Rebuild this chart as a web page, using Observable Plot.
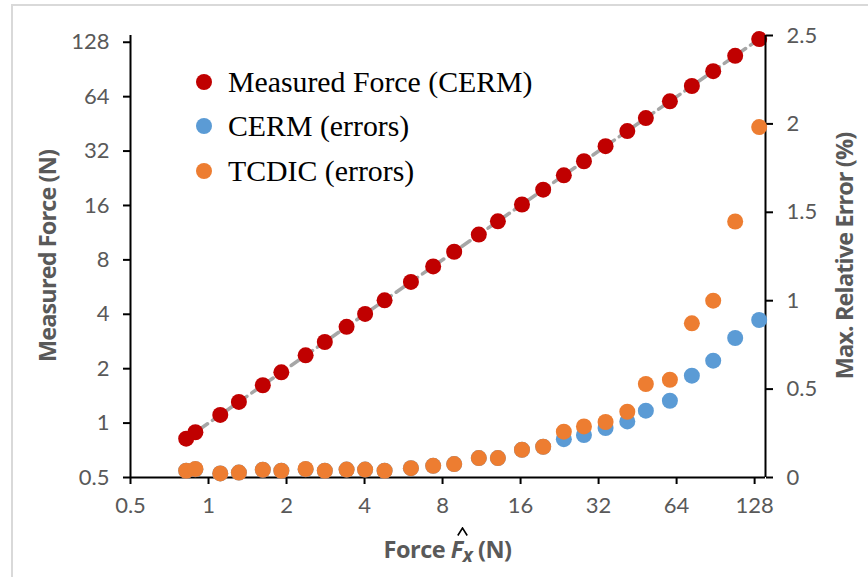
<!DOCTYPE html>
<html>
<head>
<meta charset="utf-8">
<script src="https://cdn.jsdelivr.net/npm/d3@7"></script>
<script src="https://cdn.jsdelivr.net/npm/@observablehq/plot@0.6"></script>
<style>
  html, body { margin: 0; padding: 0; background: #fff; }
  #wrap { position: relative; width: 868px; height: 577px; overflow: hidden; background: #fff; }
  #frame { position: absolute; left: 11px; top: 4px; width: 900px; height: 600px;
           border-left: 2px solid #d9d9d9; border-top: 2px solid #d9d9d9; }
  .layer { position: absolute; left: 0; top: 0; }
  .layer svg { overflow: visible; }
  .title { position: absolute; font-family: "Open Sans", sans-serif; font-weight: 700;
           font-size: 23.5px; letter-spacing: -0.9px; line-height: 28px; color: #595959; white-space: nowrap; }
  .rot { transform: translate(-50%, -50%) rotate(-90deg); }
  #legend { position: absolute; left: 0; top: 0; font-family: "Liberation Serif", serif; font-size: 29.8px; color: #000; }
  .li { position: absolute; left: 196px; height: 16px; display: flex; align-items: center; white-space: nowrap; }
  .sw { width: 16px; height: 16px; border-radius: 50%; margin-right: 16px; flex: none; }
  #xtitle { left: 130px; width: 635px; top: 535px; text-align: center; letter-spacing: -0.5px; }
  .hat { position: relative; display: inline-block; }
  .caret { position: absolute; left: 6px; top: -8px; }
</style>
</head>
<body>
<div id="wrap">
  <div id="frame"></div>
  <div id="p1" class="layer"></div>
  <div id="p2" class="layer"></div>
  <div id="legend"></div>
  <div class="title rot" style="left:47px; top:256px;">Measured Force (N)</div>
  <div class="title rot" style="left:844px; top:256px;">Max. Relative Error (%)</div>
  <div id="xtitle" class="title">Force <span class="hat"><i>F</i><svg class="caret" width="11" height="9" viewBox="0 0 11 9"><polyline points="0.8,8.5 5.5,1 10.2,8.5" fill="none" stroke="#000" stroke-width="1.6"/></svg></span><sub style="font-size:19px;position:relative;top:-2px;"><i>x</i></sub> (N)</div>
</div>
<script>
// ---- data ----
const forceX = [0.82, 0.89, 1.11, 1.31, 1.62, 1.91, 2.37, 2.81, 3.41, 4.02, 4.78, 6.04, 7.36, 8.87,
  11.04, 13.08, 16.2, 19.56, 23.5, 28.1, 34.05, 41.3, 48.7, 60.3, 73.3, 88.6, 107.7, 133.3];
const measuredForce = [0.82, 0.89, 1.11, 1.31, 1.62, 1.91, 2.37, 2.81, 3.41, 4.02, 4.78, 6.04, 7.36, 8.87,
  11.04, 13.08, 16.2, 19.56, 23.5, 28.1, 34.05, 41.3, 48.7, 60.3, 73.3, 88.6, 107.7, 133.3];
const cermErr = [0.038, 0.046, 0.023, 0.028, 0.044, 0.038, 0.046, 0.038, 0.045, 0.045, 0.038, 0.053, 0.066, 0.076,
  0.11, 0.11, 0.157, 0.174, 0.217, 0.24, 0.28, 0.317, 0.378, 0.434, 0.576, 0.661, 0.789, 0.891];
const tcdicErr = [0.038, 0.048, 0.023, 0.028, 0.044, 0.038, 0.048, 0.038, 0.045, 0.045, 0.038, 0.053, 0.066, 0.076,
  0.11, 0.11, 0.157, 0.174, 0.259, 0.289, 0.314, 0.372, 0.529, 0.553, 0.872, 1.0, 1.448, 1.982];
const forceTicks = [0.5, 1, 2, 4, 8, 16, 32, 64, 128];
const errTicks = [0, 0.5, 1, 1.5, 2, 2.5];
const seriesNames = ["Measured Force (CERM)", "CERM (errors)", "TCDIC (errors)"];
const seriesColors = ["#c00000", "#5b9bd5", "#ed7d31"];

const measuredData = forceX.map((x, i) => ({x, y: measuredForce[i]}));
const cermData = forceX.map((x, i) => ({x, e: cermErr[i]}));
const tcdicData = forceX.map((x, i) => ({x, e: tcdicErr[i]}));
const refLine = [forceX[0], forceX[forceX.length - 1]];

const W = 868, H = 577, ML = 130, MR = 103, MT = 35, MB = 100;
const xDomain = [0.5, 141];
const tickFont = {fontFamily: "Lato, 'Open Sans', sans-serif", fontSize: 22};
const common = {
  width: W, height: H, marginLeft: ML, marginRight: MR, marginTop: MT, marginBottom: MB,
  style: {background: "transparent", fontFamily: "Lato, 'Open Sans', sans-serif", fontSize: "22px", overflow: "visible"}
};

const p1 = Plot.plot({
  ...common,
  x: {type: "log", base: 2, domain: xDomain},
  y: {type: "log", base: 2, domain: [0.5, 139.5]},
  marks: [
    Plot.axisX(forceTicks, {anchor: "bottom", tickSize: 7, tickPadding: 13, tickFormat: d => String(d),
      stroke: "#000", strokeWidth: 2, fill: "#595959", label: null, ...tickFont}),
    Plot.axisY(forceTicks, {anchor: "left", tickSize: 7, tickPadding: 14, tickFormat: d => String(d),
      stroke: "#000", strokeWidth: 2, fill: "#595959", label: null, ...tickFont}),
    Plot.ruleX([xDomain[0]], {stroke: "#000", strokeWidth: 2}),
    Plot.ruleY([0.5], {stroke: "#000", strokeWidth: 2}),
    Plot.line(refLine, {x: d => d, y: d => d, stroke: "#a6a6a6", strokeWidth: 3.5, strokeDasharray: "10,6"}),
    Plot.dot(measuredData, {x: "x", y: "y", r: 8, fill: seriesColors[0], stroke: null})
  ]
});
document.getElementById("p1").appendChild(p1);

const p2 = Plot.plot({
  ...common,
  x: {type: "log", base: 2, domain: xDomain, axis: null},
  y: {type: "linear", domain: [0, 2.5]},
  marks: [
    Plot.axisY(errTicks, {anchor: "right", tickSize: 7, tickPadding: 14, tickFormat: d => String(d),
      stroke: "#000", strokeWidth: 2, fill: "#595959", label: null, ...tickFont}),
    Plot.ruleX([xDomain[1]], {stroke: "#000", strokeWidth: 2}),
    Plot.dot(cermData, {x: "x", y: "e", r: 8, fill: seriesColors[1], stroke: null}),
    Plot.dot(tcdicData, {x: "x", y: "e", r: 8, fill: seriesColors[2], stroke: null})
  ]
});
document.getElementById("p2").appendChild(p2);

const legend = document.getElementById("legend");
const legendTops = [74, 118, 163];
seriesNames.forEach((name, i) => {
  const item = document.createElement("div");
  item.className = "li";
  item.style.top = legendTops[i] + "px";
  item.innerHTML = `<span class="sw" style="background:${seriesColors[i]}"></span><span>${name}</span>`;
  legend.appendChild(item);
});
</script>
</body>
</html>
